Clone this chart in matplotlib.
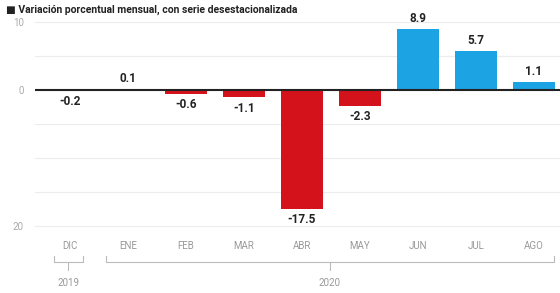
import matplotlib
matplotlib.use("Agg")
import matplotlib.pyplot as plt
import matplotlib.transforms as mtransforms

# Datos
meses = ["DIC", "ENE", "FEB", "MAR", "ABR", "MAY", "JUN", "JUL", "AGO"]
variacion = [-0.2, 0.1, -0.6, -1.1, -17.5, -2.3, 8.9, 5.7, 1.1]
etiquetas = ["-0.2", "0.1", "-0.6", "-1.1", "-17.5", "-2.3", "8.9", "5.7", "1.1"]
y_ticks = [10, 0, -20]
y_tick_labels = ["10", "0", "20"]

plt.rcParams["font.family"] = ["Roboto", "DejaVu Sans"]

rojo = "#d4121c"
azul = "#1ba3e3"

fig = plt.figure(figsize=(5.6, 2.93), dpi=100)
ax = fig.add_axes([0.0625, 0.205, 0.9375, 0.744])

x = list(range(len(meses)))
colores = [azul if v > 0 else rojo for v in variacion]
ax.bar(x, variacion, width=0.72, color=colores, zorder=2)

for xi, v, lab in zip(x, variacion, etiquetas):
    if v >= 0:
        ax.annotate(lab, (xi, v), xytext=(0, 3), textcoords="offset points",
                    ha="center", va="bottom", fontsize=8.5, fontweight="bold", color="#222222")
    else:
        ax.annotate(lab, (xi, v), xytext=(0, -3), textcoords="offset points",
                    ha="center", va="top", fontsize=8.5, fontweight="bold", color="#222222")

for g in [10, 5, -5, -10, -15, -20]:
    ax.axhline(g, color="#ececec", linewidth=0.8, zorder=0)
ax.axhline(0, color="#222222", linewidth=1.5, zorder=3)

ax.set_xlim(-0.6, 8.45)
ax.set_ylim(-21, 11)
ax.set_yticks(y_ticks)
ax.set_yticklabels(y_tick_labels, fontsize=7, color="#aaaaaa")
ax.set_xticks(x)
ax.set_xticklabels(meses, fontsize=7, color="#999999")
ax.tick_params(length=0, pad=6)
ax.tick_params(axis="y", pad=8)
for s in ax.spines.values():
    s.set_visible(False)

# Llaves de años
trans = mtransforms.blended_transform_factory(ax.transData, fig.transFigure)
def llave(x0, x1, texto):
    yb = 1 - 262 / 293
    yt = 1 - 256 / 293
    ax.plot([x0, x0, x1, x1], [yt, yb, yb, yt], transform=trans, color="#bbbbbb",
            linewidth=0.8, clip_on=False)
    xm = (x0 + x1) / 2
    ax.plot([xm, xm], [yb, 1 - 270 / 293], transform=trans, color="#bbbbbb",
            linewidth=0.8, clip_on=False)
    ax.text(xm, 1 - 283 / 293, texto, transform=trans, ha="center", va="center",
            fontsize=7, color="#999999")

llave(-0.28, 0.22, "2019")
llave(0.62, 8.35, "2020")

fig.text(0.01, 0.985, "\u25a0 Variación porcentual mensual, con serie desestacionalizada",
         ha="left", va="top", fontsize=7.5, fontweight="bold", color="#222222")

fig.savefig("out.png", dpi=100)
